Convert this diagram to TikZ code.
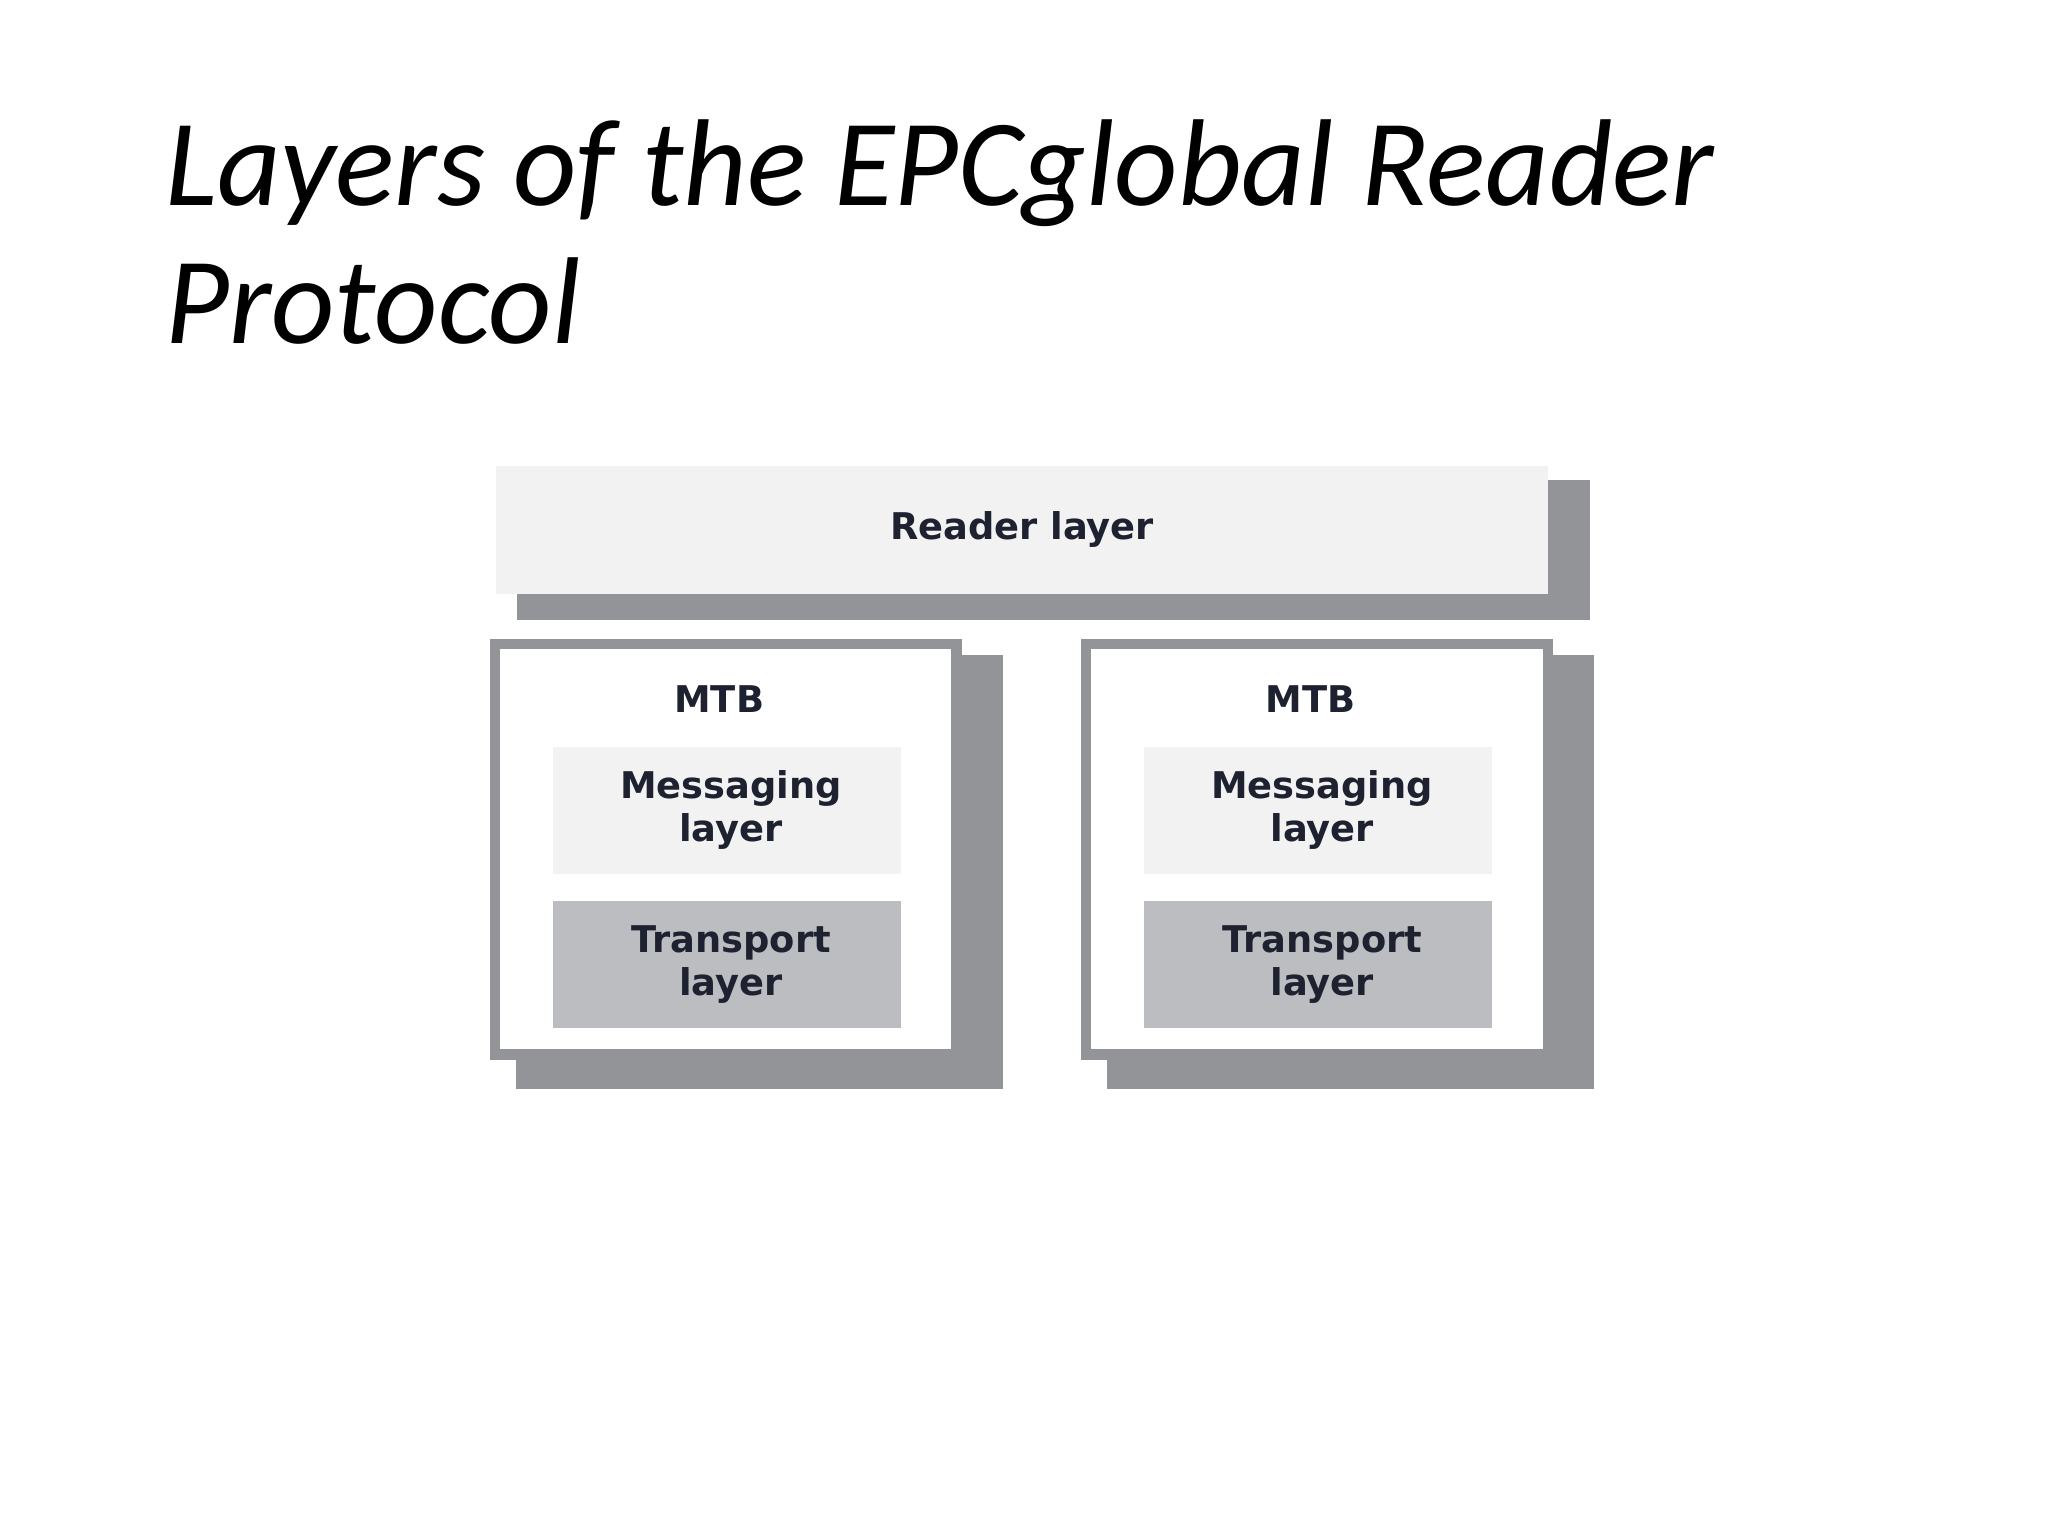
\documentclass[tikz,border=0pt]{standalone}
\usepackage{fontspec}
\setmainfont{Carlito}
\newfontfamily\boxfont{DejaVu Sans}
\definecolor{txt}{HTML}{1E2130}
\definecolor{shad}{HTML}{939497}
\definecolor{light}{HTML}{F2F2F2}
\definecolor{mid}{HTML}{BCBDC0}
\begin{document}
\begin{tikzpicture}[x=1bp,y=-1bp,
  lbl/.style={font=\boxfont\bfseries\fontsize{28}{33}\selectfont,text=txt,align=center},
  shadowbox/.style={fill=shad,draw=none},
  rect/.style={inner sep=0pt,outer sep=0pt,anchor=north west}]
\useasboundingbox (0,0) rectangle (1552,1164);
\node[anchor=base west,inner sep=0pt,font=\itshape\fontsize{94}{94}\selectfont] (t1) at (125,156) {Layers of the EPCglobal Reader};
\node[anchor=base west,inner sep=0pt,font=\itshape\fontsize{94}{94}\selectfont] (t2) at (125,260) {Protocol};
% Reader layer
\fill[shadowbox] (392,364) rectangle (1205,470);
\node[rect,fill=light,minimum width=797bp,minimum height=97bp] (rl) at (376,353) {};
\node[lbl] at (rl.center) {Reader layer};
% MTB boxes
\foreach \x/\n in {371/a,819/b}{
  \fill[shadowbox] (\x+20,496) rectangle (\x+389,825);
  \node[rect,fill=white,draw=shad,line width=8bp,minimum width=350bp,minimum height=311bp] (m\n) at (\x+4,488) {};
  \node[lbl] (mt\n) at (\x+174,530) {MTB};
  \node[rect,fill=light,minimum width=264bp,minimum height=96bp] (ms\n) at (\x+48,566) {};
  \node[lbl] at ([xshift=3bp]ms\n.center) {Messaging\\layer};
  \node[rect,fill=mid,minimum width=264bp,minimum height=96bp] (tr\n) at (\x+48,683) {};
  \node[lbl] at ([xshift=3bp]tr\n.center) {Transport\\layer};
}
\end{tikzpicture}
\end{document}
